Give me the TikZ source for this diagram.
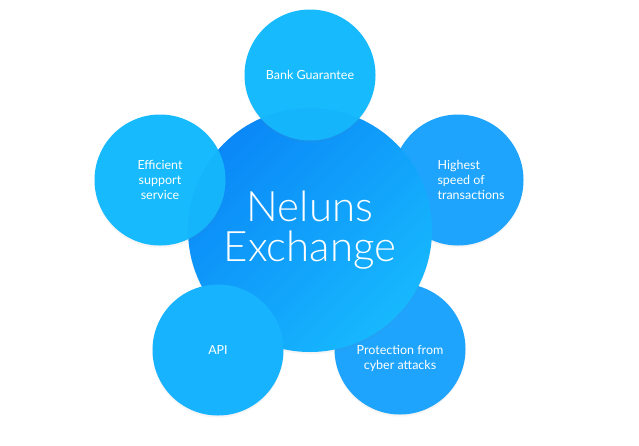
\documentclass[tikz,border=0pt]{standalone}
\usepackage{fontspec}
\setmainfont{Lato}
\newfontfamily\nellight{Lato Light}
\usepackage{xcolor}
\definecolor{nelcyan}{HTML}{17BBFD}
\definecolor{nelsky}{HTML}{18B3FE}
\definecolor{nelblue}{HTML}{1EA4FD}
\definecolor{neldark}{HTML}{0A88F7}
\definecolor{nellite}{HTML}{17B8FE}
\usetikzlibrary{positioning,shadows}
\tikzset{
  nelbubble/.style={circle,minimum size=131pt,inner sep=0pt,align=center,text=white,
    font=\fontsize{12.5}{15}\selectfont,
    drop shadow={opacity=0.08,shadow xshift=0pt,shadow yshift=-2pt}},
  nelcore/.style={circle,minimum size=244pt,inner sep=0pt,align=center,text=white,
    font=\nellight\fontsize{42}{40}\selectfont,
    top color=neldark,bottom color=nellite,shading angle=45,
    drop shadow={opacity=0.08,shadow xshift=0pt,shadow yshift=-2pt}},
  nellabel/.style={align=left,text=white,inner sep=0pt,font=\fontsize{12.5}{15}\selectfont},
  nelveil/.style={fill=neldark,opacity=0.1},
}
\begin{document}
\begin{tikzpicture}[x=1pt,y=-1pt]
\useasboundingbox[fill=white] (0,0) rectangle (639,445);

% bubbles behind the core
\node[nelbubble,fill=nelblue] (speed) at (458,180){};
\node[nelbubble,fill=nelblue] (protect) at (400,349){};

% core
\node[nelcore] (core) at (310,230){Neluns\\Exchange};

% bubbles over the core
\node[nelbubble,fill=nelcyan] (bank) at (310,75){Bank Guarantee};
\node[nelbubble,fill=nelcyan] (support) at (160,180){Efficient\\support\\service};
\node[nelbubble,fill=nelsky] (api) at (218,350){API};

% where the light bubbles lie on the core
\begin{scope}
\clip (core.center) circle (122pt);
\fill[nelveil] (bank.center) circle (65.5pt);
\fill[nelveil] (support.center) circle (65.5pt);
\end{scope}

\node[nellabel] (speedtext) at ([xshift=13pt]speed.center){Highest\\speed of\\transactions};
\node[nellabel,align=center] (protecttext) at ([yshift=-9pt]protect.center){Protection from\\cyber attacks};
\end{tikzpicture}
\end{document}
